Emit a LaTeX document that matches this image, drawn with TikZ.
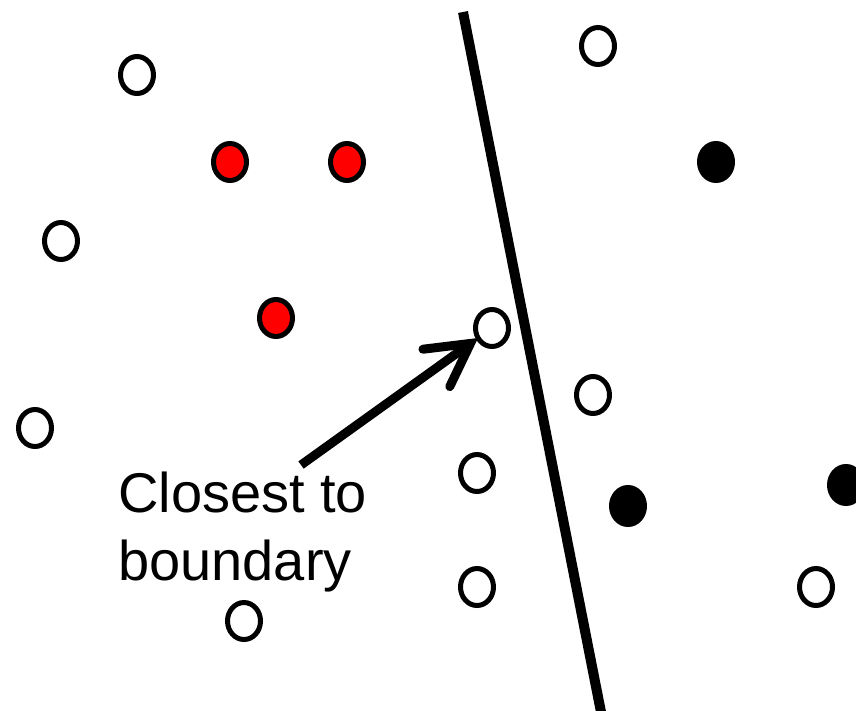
\documentclass[tikz,border=0pt]{standalone}
\usepackage{fontspec}
\setmainfont{Liberation Sans}
\usetikzlibrary{shapes.geometric,arrows.meta}
\begin{document}
\begin{tikzpicture}[x=1pt,y=-1pt,
  dot/.style={ellipse,draw=black,line width=5pt,minimum width=33pt,minimum height=37pt,inner sep=0pt,outer sep=0pt},
  hollow/.style={dot,fill=white},
  redpt/.style={dot,fill=red},
  blackpt/.style={dot,fill=black},
  label/.style={font=\fontsize{56}{68}\selectfont,align=left,inner sep=0pt}]
\useasboundingbox (0,0) rectangle (856,710);
% separating boundary
\coordinate (btop) at (463,12);
\coordinate (bbot) at (601,712);
\draw[line width=10pt] (btop) -- (bbot);
% hollow points
\node[hollow] (h1) at (137,75) {};
\node[hollow] (h2) at (598,46) {};
\node[hollow] (h3) at (61,241) {};
\node[hollow] (h4) at (492,328) {};
\node[hollow] (h5) at (35,428) {};
\node[hollow] (h6) at (593,395) {};
\node[hollow] (h7) at (477,473) {};
\node[hollow] (h8) at (477,587) {};
\node[hollow] (h9) at (244,621) {};
\node[hollow] (h10) at (816,587) {};
% red points
\node[redpt] (r1) at (230,162) {};
\node[redpt] (r2) at (347,162) {};
\node[redpt] (r3) at (276,318) {};
% black points
\node[blackpt] (b1) at (716,162) {};
\node[blackpt] (b2) at (628,506) {};
\node[blackpt] (b3) at (846,485) {};
% label and pointer
\node[label,anchor=base west] (txt) at (118,580) {Closest to\\boundary};
\coordinate (tail) at (301,465);
\draw[line width=9pt,-{Straight Barb[length=42pt,width=46pt,line cap=round]}] (tail) -- (h4);
\end{tikzpicture}
\end{document}
